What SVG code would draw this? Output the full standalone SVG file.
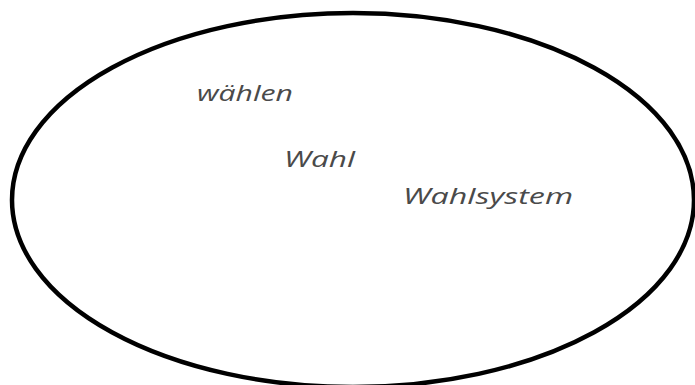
<svg xmlns="http://www.w3.org/2000/svg" width="695" height="385" viewBox="0 0 695 385">
<style>
.lbl{font-family:"Open Sans","DejaVu Sans",sans-serif;font-size:21px;fill:#4a4a4a;font-style:italic}
</style>
<rect width="695" height="385" fill="#fff"/>
<g id="ellipse">
<ellipse cx="353" cy="200" rx="341" ry="187" fill="none" stroke="#000" stroke-width="4.5"/>
</g>
<g id="connectors"></g>
<g id="n1"><text class="lbl" x="197" y="101" textLength="96" lengthAdjust="spacingAndGlyphs">wählen</text></g>
<g id="n2"><text class="lbl" x="284" y="167" textLength="71" lengthAdjust="spacingAndGlyphs">Wahl</text></g>
<g id="n3"><text class="lbl" x="403" y="204" textLength="170" lengthAdjust="spacingAndGlyphs">Wahlsystem</text></g>
</svg>
